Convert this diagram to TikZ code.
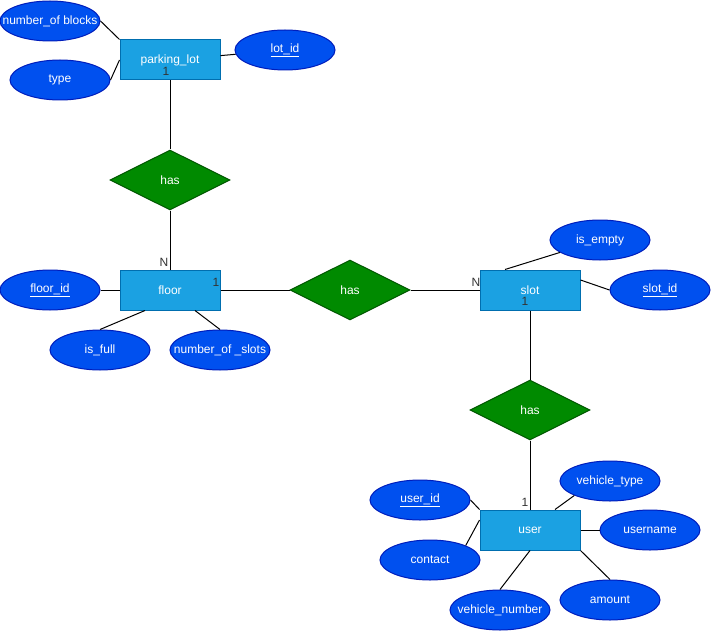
\documentclass[tikz,border=0pt]{standalone}
\usepackage{fontspec}
\setmainfont{Liberation Sans}
\usetikzlibrary{shapes.geometric}
\definecolor{entfill}{HTML}{1BA1E2}
\definecolor{entdraw}{HTML}{006EAF}
\definecolor{attfill}{HTML}{0050EF}
\definecolor{attdraw}{HTML}{001DBC}
\definecolor{relfill}{HTML}{008A00}
\definecolor{reldraw}{HTML}{005700}
\definecolor{cardcol}{HTML}{333333}
\newcommand{\attxt}[1]{\makebox[0pt][c]{#1}}
\tikzset{
  entity/.style={rectangle, fill=entfill, draw=entdraw, line width=1pt, minimum width=100pt, minimum height=40pt, inner sep=0pt, text=white, font=\fontsize{12}{14}\selectfont},
  attr/.style={ellipse, fill=attfill, draw=attdraw, line width=1pt, minimum width=100pt, minimum height=40pt, inner sep=0pt, text=white, font=\fontsize{12}{14}\selectfont},
  rel/.style={diamond, aspect=2, fill=relfill, draw=reldraw, line width=1pt, minimum width=120pt, minimum height=60pt, inner sep=0pt, text=white, font=\fontsize{12}{14}\selectfont},
  card/.style={text=cardcol, inner sep=0pt, font=\fontsize{12}{14}\selectfont},
  conn/.style={draw=black, line width=1pt}
}
\begin{document}
\begin{tikzpicture}[x=1pt,y=-1pt]
\useasboundingbox[fill=white] (0,0) rectangle (711,631);
% entities
\node[entity] (pl) at (170,60) {parking\_lot};
\node[entity] (floor) at (170,290) {floor};
\node[entity] (slot) at (530,290) {slot};
\node[entity] (user) at (530,530) {user};
% relationships
\node[rel] (has1) at (170,180) {has};
\node[rel] (has2) at (350,290) {has};
\node[rel] (has3) at (530,410) {has};
% attributes
\node[attr] (nb) at (50,21) {\attxt{number\_of blocks}};
\node[attr] (type) at (60,80) {\attxt{type}};
\node[attr] (lotid) at (285,50) {\attxt{\underline{lot\_id}}};
\node[attr] (floorid) at (50,290) {\attxt{\underline{floor\_id}}};
\node[attr] (isfull) at (100,350) {\attxt{is\_full}};
\node[attr] (nos) at (220,350) {\attxt{number\_of \_slots}};
\node[attr] (isempty) at (600,240) {\attxt{is\_empty}};
\node[attr] (slotid) at (660,290) {\attxt{\underline{slot\_id}}};
\node[attr] (userid) at (420,500) {\attxt{\underline{user\_id}}};
\node[attr] (contact) at (430,560) {\attxt{contact}};
\node[attr] (vt) at (610,481) {\attxt{vehicle\_type}};
\node[attr] (un) at (650,530) {\attxt{username}};
\node[attr] (vn) at (500,610) {\attxt{vehicle\_number}};
\node[attr] (amount) at (610,600) {\attxt{amount}};
% connectors
\draw[conn] (nb.east) -- (pl.north west);
\draw[conn] (type.east) -- (pl.west);
\draw[conn] (pl) -- (lotid);
\draw[conn] (pl) -- (has1);
\draw[conn] (has1) -- (floor);
\draw[conn] (floorid) -- (floor);
\draw[conn] (isfull.north) -- ([xshift=-25pt]floor.south);
\draw[conn] (nos.north) -- ([xshift=25pt]floor.south);
\draw[conn] (floor) -- (has2);
\draw[conn] (has2) -- (slot);
\draw[conn] (isempty) -- ([xshift=-25pt]slot.north);
\draw[conn] ([yshift=10pt]slot.east) -- (slotid.west);
\draw[conn] (slot) -- (has3);
\draw[conn] (has3) -- (user);
\draw[conn] (userid.east) -- (user.north west);
\draw[conn] (contact.north east) -- ([yshift=10pt]user.west);
\draw[conn] (vt.south west) -- ([xshift=25pt]user.north);
\draw[conn] (user) -- (un);
\draw[conn] (user.south) -- (vn.north);
\draw[conn] (user.south east) -- (amount.north);
% cardinalities
\node[card] (c1) at (166,71) {1};
\node[card] (c2) at (164,262) {N};
\node[card] (c3) at (216,282) {1};
\node[card] (c4) at (476,282) {N};
\node[card] (c5) at (525,301) {1};
\node[card] (c6) at (525,502) {1};
\end{tikzpicture}
\end{document}
